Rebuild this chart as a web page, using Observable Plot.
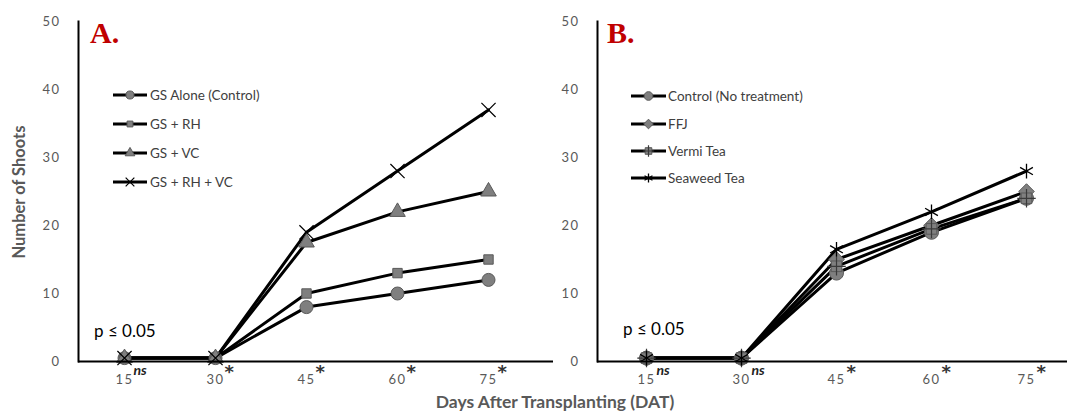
<!DOCTYPE html>
<html><head><meta charset="utf-8">
<script src="https://cdn.jsdelivr.net/npm/d3@7"></script>
<script src="https://cdn.jsdelivr.net/npm/@observablehq/plot@0.6"></script>
<style>
body{margin:0;background:#fff;}
#wrap{position:relative;width:1067px;height:412px;overflow:hidden;font-family:Lato,"Open Sans",sans-serif;}
.abs{position:absolute;white-space:nowrap;}
.tk text{letter-spacing:1.5px;}
.panel{position:absolute;top:0;}
.lbl{font-family:"Liberation Serif",serif;font-weight:bold;color:#c00000;font-size:30px;line-height:30px;}
.pv{font-size:17px;line-height:17px;color:#000;}
</style></head><body><div id="wrap"></div>
<script>
// ---- data ----
const days = [15, 30, 45, 60, 75];
const yTicks = [0, 10, 20, 30, 40, 50];
const seriesA = ["GS Alone (Control)", "GS + RH", "GS + VC", "GS + RH + VC"];
const gsAlone = [0.5, 0.5, 8, 10, 12];
const gsRH = [0.5, 0.5, 10, 13, 15];
const gsVC = [0.5, 0.5, 17.5, 22, 25];
const gsRHVC = [0.5, 0.5, 19, 28, 37];
const seriesB = ["Control (No treatment)", "FFJ", "Vermi Tea", "Seaweed Tea"];
const control = [0.5, 0.5, 13, 19, 24];
const ffj = [0.5, 0.5, 15, 20, 25];
const vermi = [0.5, 0.5, 14, 19.5, 24];
const seaweed = [0.5, 0.5, 16.5, 22, 28];
const sigA = ["ns", "*", "*", "*", "*"];
const sigB = ["ns", "ns", "*", "*", "*"];
const panelLabels = ["A.", "B."];
const yTitle = "Number of Shoots";
const xTitle = "Days After Transplanting (DAT)";
const pText = "p ≤ 0.05";

// ---- marker styles (layers per series) ----
const GREY = "#7f7f7f", DARK = "#595959";
const markersA = [
  [{symbol: "circle", r: 6.5, fill: GREY, stroke: DARK, sw: 1}],
  [{symbol: "square", r: 5.3, fill: GREY, stroke: DARK, sw: 1}],
  [{symbol: "triangle", r: 5.8, fill: GREY, stroke: DARK, sw: 1}],
  [{symbol: "times", r: 6.5, fill: "none", stroke: "black", sw: 1.2}]
];
const markersB = [
  [{symbol: "circle", r: 7, fill: GREY, stroke: DARK, sw: 1}],
  [{symbol: "diamond2", r: 7, fill: GREY, stroke: DARK, sw: 1}],
  [{symbol: "square", r: 6, fill: GREY, stroke: DARK, sw: 1}, {symbol: "plus", r: 6, fill: "none", stroke: "#3a3a3a", sw: 1.2}],
  [{symbol: "asterisk", r: 7, fill: "none", stroke: "black", sw: 1.3}]
];

function panel({names, values, markers, sig, width, marginLeft, marginRight, xRange, sigDx}) {
  const rows = names.flatMap((s, i) => days.map((d, j) => ({series: s, day: d, value: values[i][j]})));
  const sigRows = days.map((d, i) => ({day: d, s: sig[i]}));
  const dots = names.flatMap((s, i) => markers[i].map(m =>
    Plot.dot(rows.filter(r => r.series === s), {x: "day", y: "value", symbol: m.symbol, r: m.r, fill: m.fill, stroke: m.stroke, strokeWidth: m.sw})
  ));
  return Plot.plot({
    width, height: 412, marginLeft, marginRight, marginTop: 21, marginBottom: 51,
    x: {type: "point", domain: days, range: xRange, padding: 0},
    y: {domain: [0, 50]},
    style: {background: "transparent", overflow: "visible", fontFamily: "Lato, 'Open Sans', sans-serif"},
    marks: [
      Plot.axisY({ticks: yTicks, tickSize: 0, tickPadding: 18, fontSize: 13, fill: "#595959", label: null, className: "tk"}),
      Plot.axisX({tickSize: 0, tickPadding: 13, fontSize: 13, fill: "#595959", label: null, className: "tk"}),
      Plot.line(rows, {x: "day", y: "value", z: "series", stroke: "black", strokeWidth: 3}),
      ...dots,
      Plot.frame({anchor: "left", stroke: "black", strokeWidth: 2}),
      Plot.ruleY([0], {stroke: "black", strokeWidth: 2}),
      Plot.text(sigRows.filter(r => r.s === "ns"), {x: "day", text: "s", frameAnchor: "bottom", lineAnchor: "middle", dx: sigDx, dy: 9, textAnchor: "start", fontSize: 14, fontWeight: "bold", fontStyle: "italic", fill: "#222"}),
      Plot.text(sigRows.filter(r => r.s === "*"), {x: "day", text: "s", frameAnchor: "bottom", lineAnchor: "middle", dx: sigDx, dy: 11, textAnchor: "start", fontSize: 18, fontWeight: "bold", fill: "#333", fontFamily: "DejaVu Sans"})
    ]
  });
}

const wrap = document.getElementById("wrap");

const plotA = panel({names: seriesA, values: [gsAlone, gsRH, gsVC, gsRHVC], markers: markersA, sig: sigA,
  width: 555, marginLeft: 78, marginRight: 2, xRange: [122, 489], sigDx: 9});
plotA.classList.add("panel"); plotA.style.left = "0px";
wrap.appendChild(plotA);

const plotB = panel({names: seriesB, values: [control, ffj, vermi, seaweed], markers: markersB, sig: sigB,
  width: 527, marginLeft: 57, marginRight: 0, xRange: [104, 487], sigDx: 10});
plotB.classList.add("panel"); plotB.style.left = "540px";
wrap.appendChild(plotB);

function addDiv(cls, text, css) {
  const d = document.createElement("div");
  d.className = "abs " + cls;
  d.textContent = text;
  Object.assign(d.style, css);
  wrap.appendChild(d);
  return d;
}
addDiv("lbl", panelLabels[0], {left: "90px", top: "18px"});
addDiv("lbl", panelLabels[1], {left: "607px", top: "18px"});
addDiv("pv", pText, {left: "94px", top: "322px"});
addDiv("pv", pText, {left: "623px", top: "320px"});
addDiv("", yTitle, {left: "19px", top: "192px", transform: "translate(-50%,-50%) rotate(-90deg)", fontWeight: "bold", fontSize: "16.5px", color: "#595959"});
addDiv("", xTitle, {left: "555px", top: "393px", transform: "translateX(-50%)", fontWeight: "bold", fontSize: "17.5px", lineHeight: "18px", color: "#595959"});

// legends
function legend(names, markers, lineX0, lineX1, tx, ys) {
  const svg = d3.select(wrap).append("svg").attr("class", "abs")
    .style("left", "0px").style("top", "0px").attr("width", 1067).attr("height", 412)
    .style("pointer-events", "none");
  names.forEach((n, i) => {
    const y = ys[i];
    svg.append("line").attr("x1", lineX0).attr("x2", lineX1).attr("y1", y).attr("y2", y).attr("stroke", "black").attr("stroke-width", 3);
    const cx = (lineX0 + lineX1) / 2;
    markers[i].forEach(m => {
      const sym = {circle: d3.symbolCircle, square: d3.symbolSquare, triangle: d3.symbolTriangle, times: d3.symbolTimes, diamond2: d3.symbolDiamond2, plus: d3.symbolPlus, asterisk: d3.symbolAsterisk}[m.symbol];
      const rr = m.r * 0.62;
      svg.append("path").attr("d", d3.symbol(sym, Math.PI * rr * rr)()).attr("transform", `translate(${cx},${y})`)
        .attr("fill", m.fill).attr("stroke", m.stroke).attr("stroke-width", m.sw);
    });
    svg.append("text").attr("x", tx).attr("y", y).attr("dy", "0.35em").attr("fill", "#404040")
      .attr("font-size", 13.5).attr("font-family", "Lato, 'Open Sans', sans-serif").text(n);
  });
}
legend(seriesA, markersA, 113, 147, 150, [95, 124, 153, 182]);
legend(seriesB, markersB, 631, 666, 668, [96, 124, 151, 178]);
</script></body></html>
